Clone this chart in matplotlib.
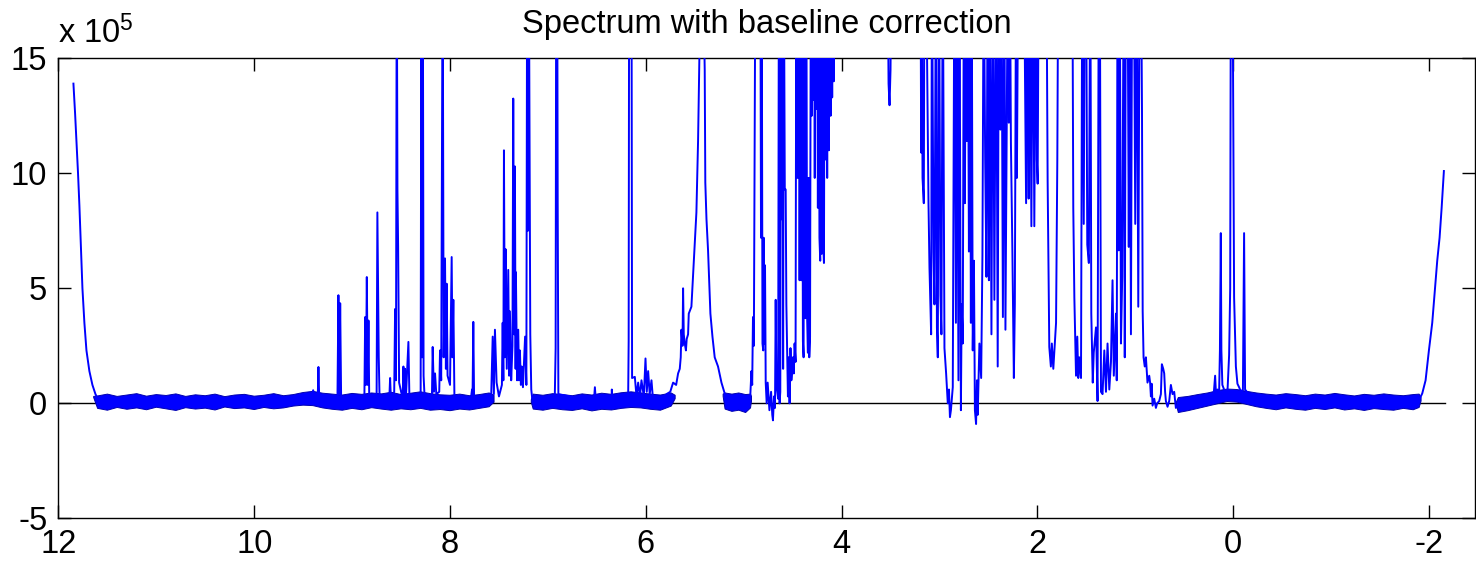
import numpy as np
import matplotlib
matplotlib.use('Agg')
import matplotlib.pyplot as plt

plt.rcParams['font.family'] = ['Liberation Sans', 'DejaVu Sans']
plt.rcParams['mathtext.fontset'] = 'custom'
plt.rcParams['mathtext.rm'] = 'Liberation Sans'
plt.rcParams['axes.unicode_minus'] = False

# ---------------- data (chemical shift in ppm, intensity in units of 1e5) ----------------
ppm = [
    11.847, 11.830, 11.816, 11.800, 11.786, 11.770, 11.755, 11.735, 11.714, 11.684,
    11.653, 11.622, 11.592, 11.560,
    9.420, 9.398, 9.380, 9.352, 9.344, 9.336, 9.150, 9.140, 9.130, 9.122, 9.112,
    8.875, 8.867, 8.859, 8.850, 8.840, 8.833, 8.825, 8.750, 8.742, 8.735, 8.728, 8.720,
    8.620, 8.612, 8.604, 8.570, 8.561, 8.552, 8.544, 8.537, 8.530, 8.520,
    8.484, 8.476, 8.468, 8.459, 8.450, 8.425, 8.415,
    8.300, 8.292, 8.285, 8.278, 8.270, 8.260,
    8.185, 8.177, 8.165, 8.153, 8.140, 8.110, 8.102, 8.090, 8.075, 8.065, 8.051, 8.042,
    8.034, 8.025, 8.000, 7.983, 7.975, 7.966, 7.955,
    7.790, 7.775, 7.770, 7.762, 7.754,
    7.580, 7.564, 7.552, 7.541, 7.524, 7.500, 7.470, 7.462, 7.455, 7.449, 7.440, 7.432,
    7.420, 7.405, 7.396, 7.388, 7.375, 7.362, 7.354, 7.345, 7.337, 7.330, 7.327, 7.315,
    7.303, 7.295, 7.286, 7.276, 7.268, 7.255, 7.233, 7.220, 7.212, 7.205, 7.195, 7.180,
    7.170, 7.160,
    6.930, 6.921, 6.915, 6.905, 6.900, 6.893,
    6.530, 6.520, 6.510, 6.350, 6.347, 6.340,
    6.180, 6.175, 6.170, 6.146, 6.140, 6.112, 6.095, 6.078, 6.060, 6.044, 6.020, 6.003,
    5.990, 5.976, 5.960, 5.942, 5.925,
    5.800, 5.789, 5.750, 5.721, 5.690, 5.670, 5.653, 5.643, 5.636, 5.625, 5.619, 5.612,
    5.602, 5.590, 5.582, 5.568, 5.561, 5.534, 5.510, 5.483, 5.466, 5.449, 5.429, 5.408,
    5.398, 5.392, 5.380, 5.364, 5.340, 5.319, 5.296, 5.262, 5.227, 5.194, 5.163,
    4.935, 4.921, 4.913, 4.905, 4.896, 4.888, 4.880, 4.830, 4.823, 4.816, 4.808, 4.800,
    4.796, 4.789, 4.782, 4.775, 4.765, 4.755, 4.745, 4.737, 4.720, 4.708, 4.701, 4.690,
    4.680, 4.673, 4.666, 4.660, 4.648, 4.640, 4.633, 4.626, 4.618, 4.610, 4.604, 4.597,
    4.590, 4.580, 4.571, 4.564, 4.556, 4.548, 4.540, 4.531, 4.522, 4.513, 4.505, 4.497,
    4.488, 4.480, 4.470, 4.462, 4.455, 4.448, 4.440, 4.435, 4.429, 4.420, 4.411, 4.405,
    4.395, 4.388, 4.382, 4.370, 4.360, 4.352, 4.344, 4.337, 4.330, 4.322, 4.314, 4.305,
    4.298, 4.290, 4.282, 4.274, 4.266, 4.258, 4.250, 4.242, 4.234, 4.226, 4.218, 4.210,
    4.203, 4.195, 4.188, 4.180, 4.172, 4.163, 4.155, 4.147, 4.140, 4.130, 4.122, 4.112,
    4.105, 4.096, 4.088, 4.080, 4.071,
    3.900, 3.700, 3.531, 3.520, 3.510, 3.500, 3.490, 3.350, 3.200,
    3.194, 3.187, 3.181, 3.173, 3.160, 3.153, 3.138, 3.119, 3.112, 3.102, 3.085, 3.077,
    3.061, 3.051, 3.036, 3.026, 3.017, 3.005, 2.990, 2.980, 2.966, 2.949, 2.932, 2.915,
    2.903, 2.893, 2.883, 2.864, 2.847, 2.832, 2.822, 2.806, 2.796, 2.781, 2.773, 2.762,
    2.750, 2.740, 2.730, 2.720, 2.711, 2.699, 2.689, 2.679, 2.671, 2.660, 2.648, 2.638,
    2.626, 2.617, 2.609, 2.592, 2.574, 2.561, 2.548, 2.533, 2.520, 2.507, 2.495, 2.485,
    2.469, 2.454, 2.439, 2.421, 2.405, 2.393, 2.378, 2.367, 2.352, 2.337, 2.326, 2.311,
    2.301, 2.291, 2.281, 2.270, 2.255, 2.240, 2.230, 2.217, 2.209, 2.194, 2.179, 2.166,
    2.153, 2.138, 2.115, 2.102, 2.089, 2.077, 2.061, 2.046, 2.031, 2.015, 2.005, 1.997,
    1.985, 1.969, 1.949, 1.929, 1.908, 1.895, 1.888, 1.878, 1.862, 1.852, 1.837, 1.827,
    1.809, 1.796, 1.786, 1.765, 1.745, 1.714, 1.684, 1.656, 1.643, 1.633, 1.622, 1.614,
    1.605, 1.592, 1.582, 1.571, 1.554, 1.541, 1.526, 1.515, 1.503, 1.490, 1.474, 1.459,
    1.449, 1.434, 1.424, 1.401, 1.385, 1.372, 1.362, 1.350, 1.334, 1.316, 1.299, 1.283,
    1.265, 1.248, 1.232, 1.219, 1.209, 1.197, 1.189, 1.181, 1.168, 1.158, 1.146, 1.133,
    1.117, 1.107, 1.095, 1.079, 1.066, 1.056, 1.044, 1.031, 1.015, 1.000, 0.985, 0.969,
    0.954, 0.942, 0.931, 0.924, 0.915, 0.903, 0.891, 0.875, 0.857,
    0.848, 0.840, 0.832, 0.823, 0.806, 0.789, 0.776, 0.755, 0.738, 0.728, 0.714, 0.704,
    0.695, 0.687, 0.670, 0.653, 0.636, 0.619, 0.602, 0.585, 0.565, 0.551,
    0.300, 0.200, 0.184, 0.175, 0.160, 0.143, 0.135, 0.126, 0.120, 0.110, 0.092, 0.075,
    0.058, 0.041, 0.030, 0.023, 0.007, -0.010, -0.028, -0.044, -0.061, -0.080, -0.100,
    -0.112, -0.122, -0.140, -0.163, -0.200, -0.250,
    -1.880, -1.898, -1.932, -1.966, -2.000, -2.034, -2.061, -2.085, -2.109, -2.130, -2.153,
]

intensity = [
    13.9, 12.6, 11.4, 10.0, 8.6, 6.8, 5.0, 3.5, 2.3, 1.4,
    0.8, 0.4, 0.15, 0.05,
    0.05, 0.57, 0.2, 0.1, 1.58, 0.2, 0.1, 4.70, 0.4, 4.35, 0.1,
    0.1, 3.75, 0.8, 5.49, 0.8, 3.6, 0.1, 0.2, 8.3, 4.9, 2.0, 0.3,
    0.2, 1.1, 0.2, 0.5, 4.1, 1.0, 20, 9.3, 6.8, 0.9,
    0.2, 1.6, 0.3, 1.5, 0.3, 2.67, 0.3,
    0.4, 20, 2.0, 20, 1.2, 0.3,
    0.2, 2.45, 0.5, 1.3, 0.4, 0.5, 2.3, 1.0, 20, 2.0, 6.3, 1.5,
    5.2, 1.2, 0.8, 6.36, 2.0, 4.5, 0.3,
    0.1, 0.6, 0.2, 3.54, 0.2,
    0.2, 2.9, 0.4, 3.2, 0.9, 0.3, 0.8, 3.5, 1.0, 11.0, 2.0, 6.7,
    1.5, 5.8, 1.2, 4.0, 1.0, 2.5, 13.25, 3.0, 10.3, 1.5, 5.7, 1.0,
    3.2, 1.0, 2.3, 0.8, 1.6, 0.7, 2.9, 0.8, 20, 7.5, 20, 3.0,
    0.6, 0.2,
    0.2, 2.4, 20, 20, 8.8, 0.4,
    0.1, 0.7, 0.1, 0.1, 0.6, 0.1,
    0.3, 2.7, 20, 20, 1.1, 1.15, 0.3, 0.9, 0.3, 1.0, 0.3, 1.95,
    0.5, 1.4, 0.4, 1.0, 0.1,
    0.1, 0.4, 0.5, 0.9, 0.8, 1.3, 1.5, 2.0, 3.2, 2.5, 5.0, 3.0,
    2.6, 2.3, 2.8, 3.0, 3.9, 4.2, 6.1, 8.3, 11.4, 16, 19, 17,
    14.5, 9.6, 8.0, 6.65, 3.9, 2.9, 2.0, 1.6, 0.9, 0.43, 0.1,
    0.1, 1.4, 0.8, 3.75, 2.5, 11.0, 20, 20, 7.2, 20, 2.6, 2.3,
    7.2, 2.6, 6.0, 0.9, 0.0, 0.9, 0.2, -0.3, 0.5, -0.5, -0.74, 0.3,
    -0.2, 4.5, 1.0, 0.6, 0.2, 20, 0.0, 0.5, 20, 8.0, 20, 1.5,
    20, 9.3, 9.3, 4.3, 2.3, 0.3, 2.0, 0.0, 2.4, 1.0, 1.4, 2.0,
    1.3, 2.6, 1.8, 20, 9.8, 20, 9.8, 20, 5.35, 20, 5.35, 20,
    2.7, 2.0, 20, 3.7, 20, 3.75, 2.2, 9.8, 2.0, 2.9, 20, 12.5,
    20, 13.2, 20, 9.8, 20, 12.8, 20, 8.5, 20, 7.2, 6.2, 20,
    6.5, 20, 7.0, 6.1, 20, 10.6, 20, 9.8, 20, 11.0, 20, 12.5,
    20, 13.3, 20, 14.0, 20,
    22, 22, 20, 13.9, 12.96, 14.5, 20, 22, 20,
    20, 10.9, 20, 9.8, 8.7, 20, 20, 11.7, 8.7, 5.9, 3.0, 20,
    6.6, 4.3, 20, 3.3, 2.0, 20, 4.7, 3.0, 20, 2.4, 1.3, 0.0,
    0.6, -0.6, -0.3, 0.7, 20, 3.5, 20, 1.0, 20, -0.3, 4.3, 2.6,
    20, 8.7, 20, 11.4, 20, 6.6, 20, 3.5, 20, 2.3, 6.2, -0.3,
    -0.9, 1.0, -0.5, 2.6, 1.1, 6.4, 20, 10.6, 5.5, 20, 5.35, 20,
    3.0, 20, 4.5, 20, 1.6, 20, 11.9, 20, 3.75, 20, 3.2, 13.2,
    20, 12.2, 20, 11.3, 6.6, 1.1, 4.3, 20, 9.8, 20, 20, 20,
    20, 20, 8.7, 20, 8.9, 20, 7.7, 20, 7.7, 20, 10.6, 9.55,
    20, 20, 20, 20, 20, 9.7, 6.9, 2.45, 1.6, 2.6, 1.5, 2.2,
    3.5, 10.6, 20, 20, 20, 20, 20, 20, 20, 8.5, 4.6, 3.0,
    1.2, 2.9, 1.1, 2.0, 1.1, 20, 7.8, 20, 20, 6.9, 6.1, 20,
    3.9, 0.9, 2.2, 3.3, 0.1, 20, 20, 0.5, 0.4, 2.3, 0.5, 2.6,
    0.6, 1.8, 5.35, 1.2, 2.4, 3.9, 1.0, 20, 6.65, 20, 2.6, 5.5,
    20, 2.0, 20, 20, 6.8, 20, 3.0, 20, 20, 7.8, 20, 4.2,
    20, 20, 12.7, 4.0, 2.0, 1.6, 2.0, 0.9, 1.2,
    0.9, 0.3, 0.85, -0.1, 0.2, -0.2, 0.0, 0.1, 0.4, 1.7, 1.5, 1.3,
    0.5, 0.1, -0.15, 0.1, 0.8, 0.4, 0.5, -0.2, -0.1, 0.0,
    0.1, 0.3, 1.2, 0.4, 0.6, 0.5, 2.3, 7.4, 2.3, 0.8, 0.6, 0.4,
    0.5, 2.1, 5.0, 20, 20, 4.6, 1.6, 0.85, 0.7, 0.5, 0.6,
    7.4, 0.6, 0.5, 0.3, 0.1, 0.05,
    0.05, 0.13, 0.43, 1.0, 2.3, 3.5, 4.9, 6.2, 7.2, 8.5, 10.1,
]

# noise band of the flat baseline (upper / lower envelope)
band_ppm = [
    11.64, 11.60, 11.50, 11.40, 11.30, 11.20, 11.10, 11.00, 10.90, 10.80, 10.70,
    10.60, 10.50, 10.40, 10.30, 10.20, 10.10, 10.00, 9.90, 9.80, 9.70,
    9.60, 9.50, 9.40, 9.30, 9.20, 9.10, 9.00, 8.90, 8.80, 8.70,
    8.60, 8.50, 8.40, 8.30, 8.20, 8.10, 8.00, 7.90, 7.80, 7.70,
    7.60, 7.55,
    np.nan,
    7.17, 7.15, 7.05, 6.95, 6.85, 6.75, 6.65, 6.55, 6.45, 6.35, 6.25, 6.15, 6.05,
    5.95, 5.85, 5.74, 5.70,
    np.nan,
    5.21, 5.19, 5.12, 5.05, 4.98, 4.93, 4.92,
    np.nan,
    0.58, 0.56, 0.46, 0.36, 0.26, 0.16, 0.06, -0.04, -0.14, -0.24, -0.34, -0.44, -0.54,
    -0.64, -0.74, -0.84, -0.94, -1.04, -1.14, -1.24, -1.34, -1.44, -1.54, -1.64,
    -1.74, -1.84, -1.90, -1.92,
]
band_high = [
    0.30, 0.32, 0.40, 0.30, 0.36, 0.42, 0.31, 0.38, 0.34, 0.41, 0.30,
    0.37, 0.33, 0.40, 0.29, 0.36, 0.39, 0.31, 0.35, 0.42, 0.33,
    0.38, 0.47, 0.52, 0.44, 0.40, 0.36, 0.43, 0.39, 0.45, 0.41,
    0.48, 0.38, 0.44, 0.50, 0.42, 0.37, 0.35, 0.40, 0.33, 0.38,
    0.45, 0.35,
    np.nan,
    0.15, 0.40, 0.35, 0.42, 0.38, 0.33, 0.41, 0.36, 0.44, 0.39, 0.46, 0.50, 0.45,
    0.40, 0.36, 0.45, 0.35,
    np.nan,
    0.40, 0.45, 0.40, 0.45, 0.38, 0.40, 0.30,
    np.nan,
    0.05, 0.25, 0.30, 0.38, 0.45, 0.55, 0.62, 0.60, 0.52, 0.45, 0.40, 0.36, 0.42,
    0.38, 0.33, 0.40, 0.36, 0.43, 0.37, 0.32, 0.39, 0.35, 0.41, 0.36,
    0.33, 0.38, 0.40, 0.25,
]
band_low = [
    0.25, -0.22, -0.30, -0.18, -0.26, -0.20, -0.28, -0.17, -0.24, -0.31, -0.19,
    -0.25, -0.21, -0.29, -0.16, -0.23, -0.20, -0.27, -0.18, -0.24, -0.20,
    -0.12, -0.08, -0.10, -0.20, -0.26, -0.30, -0.22, -0.28, -0.19, -0.25,
    -0.30, -0.24, -0.28, -0.22, -0.30, -0.27, -0.32, -0.25, -0.29, -0.22,
    -0.15, 0.05,
    np.nan,
    0.05, -0.25, -0.30, -0.22, -0.28, -0.31, -0.24, -0.33, -0.26, -0.29, -0.22, -0.18, -0.20,
    -0.26, -0.30, -0.12, 0.20,
    np.nan,
    0.30, -0.25, -0.35, -0.30, -0.40, -0.20, 0.10,
    np.nan,
    -0.05, -0.40, -0.32, -0.22, -0.12, -0.02, 0.08, 0.05, -0.05, -0.15, -0.22, -0.28, -0.20,
    -0.26, -0.30, -0.22, -0.27, -0.20, -0.29, -0.24, -0.31, -0.23, -0.27, -0.30,
    -0.22, -0.28, -0.18, 0.10,
]

zero_line_ppm = [12.0, -2.16]
zero_line_val = [0.0, 0.0]

x_ticks = [12, 10, 8, 6, 4, 2, 0, -2]
y_ticks = [-5, 0, 5, 10, 15]
x_limits = (12.0, -2.475)
y_limits = (-5, 15)
title_text = 'Spectrum with baseline correction'
scale_text = r'x $\mathregular{10^{5}}$'

# ---------------- figure ----------------
FS = 23.5
fig = plt.figure(figsize=(14.76, 5.64), dpi=100)
ax = fig.add_axes([0.0396, 0.0810, 0.9600, 0.8156])

ax.plot(zero_line_ppm, zero_line_val, color='black', linewidth=1.0, zorder=1)
ax.fill_between(band_ppm, band_low, band_high, facecolor='#0000ff',
                edgecolor='#0000b0', linewidth=0.7, zorder=2)
ax.plot(ppm, intensity, color='#0000ff', linewidth=1.4, zorder=3)

ax.set_xlim(*x_limits)
ax.set_ylim(*y_limits)
ax.set_xticks(x_ticks)
ax.set_yticks(y_ticks)
ax.set_xticklabels([str(t) for t in x_ticks])
ax.set_yticklabels([str(t) for t in y_ticks])
ax.tick_params(direction='in', length=9.4, width=1.0, top=True, right=True,
               labelsize=FS, pad=8, colors='black')
for s in ax.spines.values():
    s.set_linewidth(1.0)
    s.set_color('black')

ax.set_title(title_text, fontsize=FS, pad=18)
fig.text(0.0396, 1 - 43 / 564, scale_text, fontsize=FS, ha='left', va='baseline')

fig.savefig('out.png', dpi=100)
